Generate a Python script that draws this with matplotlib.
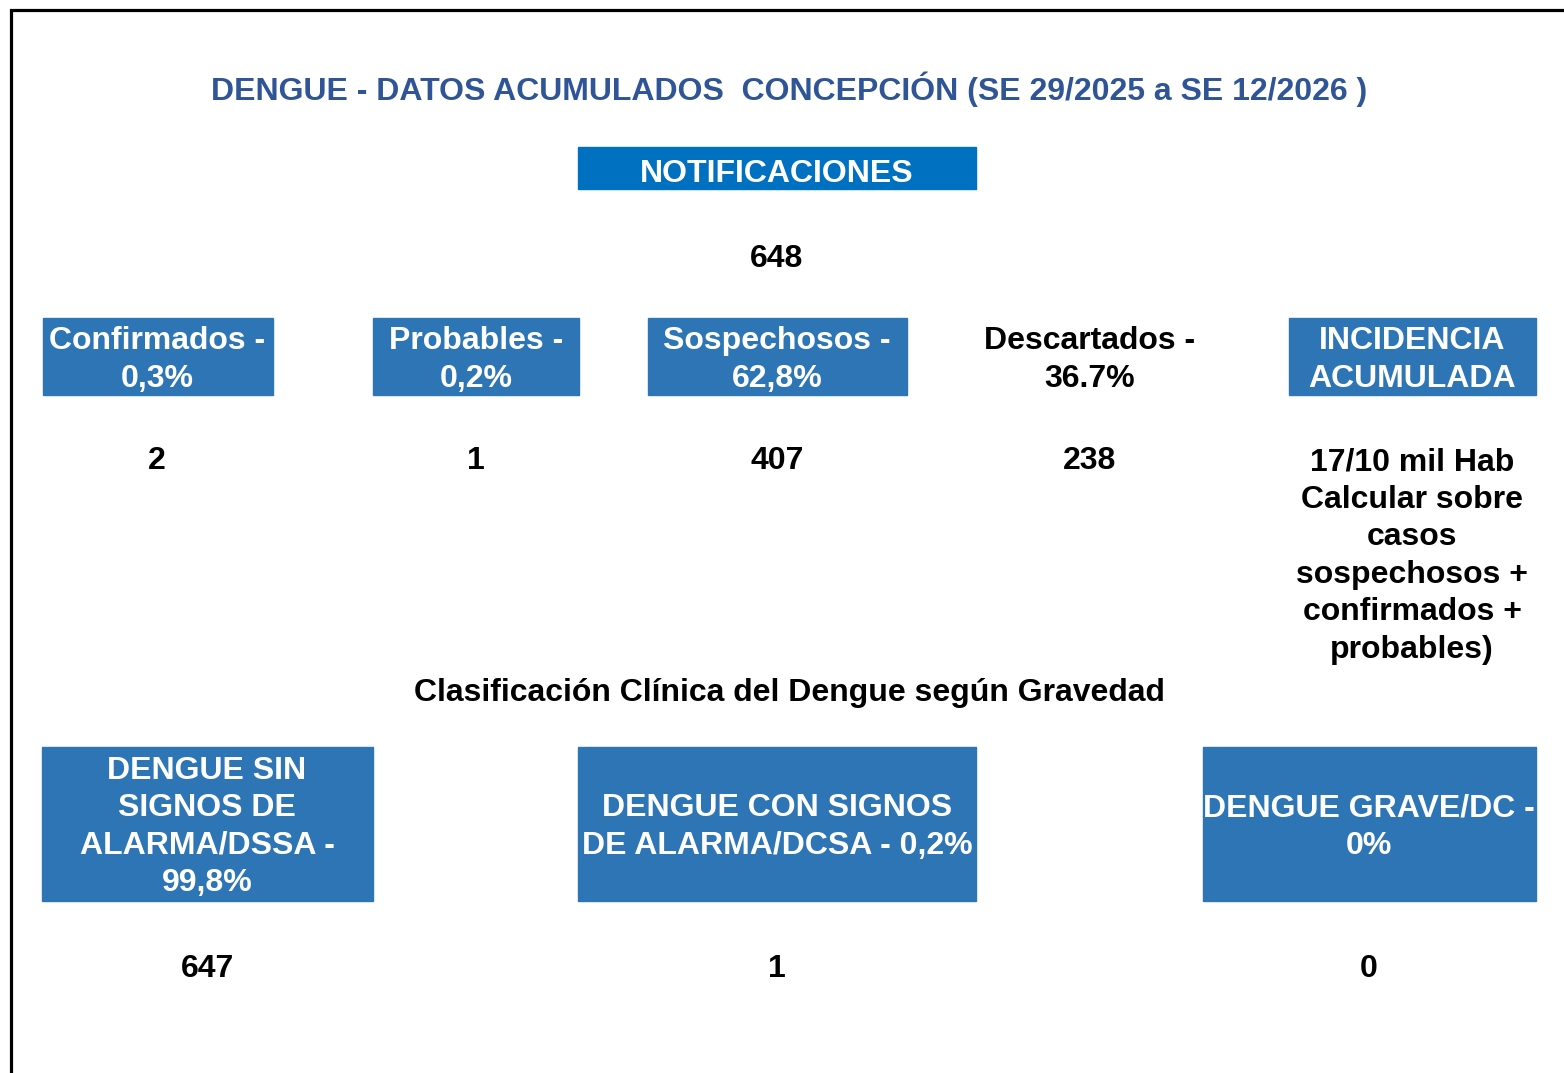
import matplotlib.pyplot as plt
from matplotlib.patches import Rectangle

plt.rcParams['font.family'] = ['Liberation Sans', 'DejaVu Sans']

# data
titulo = "DENGUE - DATOS ACUMULADOS  CONCEPCIÓN (SE 29/2025 a SE 12/2026 )"
total_label = "NOTIFICACIONES"
total_value = "648"
cat_labels = ["Confirmados -\n0,3%", "Probables -\n0,2%", "Sospechosos -\n62,8%",
              "Descartados -\n36.7%", "INCIDENCIA\nACUMULADA"]
cat_values = ["2", "1", "407", "238",
              "17/10 mil Hab\nCalcular sobre\ncasos\nsospechosos +\nconfirmados +\nprobables)"]
cat_boxed = [True, True, True, False, True]
subtitulo = "Clasificación Clínica del Dengue según Gravedad"
grav_labels = ["DENGUE SIN\nSIGNOS DE\nALARMA/DSSA -\n99,8%",
               "DENGUE CON SIGNOS\nDE ALARMA/DCSA - 0,2%",
               "DENGUE GRAVE/DC -\n0%"]
grav_values = ["647", "1", "0"]

# layout (pixels)
W, H = 1564, 1073
cat_boxes = [(43, 273), (373, 579), (648, 907), (985, 1195), (1289, 1536)]
cat_cx = [157, 476, 777, 1090, 1412]
grav_boxes = [(42, 373), (578, 976), (1203, 1536)]
grav_cx = [207, 777, 1369]

blue_title = '#2F5597'
blue_dark = '#0070C0'
blue_box = '#2E75B6'
fs = 23
ls = 1.33
line_h = 38
dy = 3  # small offset so glyph centres line up

fig = plt.figure(figsize=(W / 100, H / 100), dpi=100)
ax = fig.add_axes([0, 0, 1, 1])
ax.set_xlim(0, W)
ax.set_ylim(H, 0)
ax.axis('off')

# frame
ax.plot([11, 11, W], [H, 10, 10], color='black', lw=2.3, solid_joinstyle='miter')

ax.text(789, 89, titulo, ha='center', va='center', color=blue_title,
        fontsize=fs, fontweight='bold')

ax.add_patch(Rectangle((578, 147), 398, 42, color=blue_dark))
ax.text(777, 171 + dy, total_label, ha='center', va='center', color='white',
        fontsize=fs, fontweight='bold')
ax.text(777, 256 + dy, total_value, ha='center', va='center', color='black',
        fontsize=fs, fontweight='bold')

for (x0, x1), cx, lab, val, boxed in zip(cat_boxes, cat_cx, cat_labels, cat_values, cat_boxed):
    if boxed:
        ax.add_patch(Rectangle((x0, 318), x1 - x0, 77, color=blue_box))
    ax.text(cx, 357 + dy, lab, ha='center', va='center', linespacing=ls,
            color='white' if boxed else 'black', fontsize=fs, fontweight='bold')
    n = val.count('\n')
    ax.text(cx, 458 + dy + n * line_h / 2, val, ha='center', va='center', linespacing=ls,
            color='black', fontsize=fs, fontweight='bold')

ax.text(789, 690 + dy, subtitulo, ha='center', va='center', color='black',
        fontsize=fs, fontweight='bold')

for (x0, x1), cx, lab, val in zip(grav_boxes, grav_cx, grav_labels, grav_values):
    ax.add_patch(Rectangle((x0, 747), x1 - x0, 154, color=blue_box))
    ax.text(cx, 824 + dy, lab, ha='center', va='center', linespacing=ls,
            color='white', fontsize=fs, fontweight='bold')
    ax.text(cx, 966 + dy, val, ha='center', va='center', color='black',
            fontsize=fs, fontweight='bold')

fig.savefig('out.png', dpi=100)
